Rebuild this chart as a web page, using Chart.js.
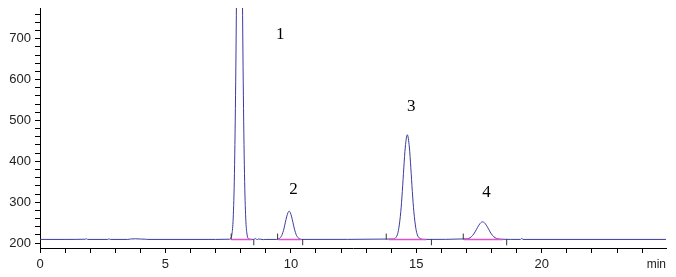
<!DOCTYPE html>
<html>
<head>
<meta charset="utf-8">
<script src="https://cdn.jsdelivr.net/npm/chart.js@4/dist/chart.umd.min.js"></script>
<style>
  body { margin: 0; background: #fff; }
</style>
</head>
<body>
<canvas id="myChart" width="676" height="277"></canvas>
<script>
// retention time (min) and detector signal
const times = [
  0, 1.0, 1.8, 1.85, 1.9, 2.7, 2.75, 2.8, 3.5, 3.6, 3.8, 4.0, 4.2, 4.3, 7.0,
  7.55, 7.6, 7.65, 7.7, 7.75, 7.8, 7.85, 7.9, 7.95, 8.0, 8.05, 8.1, 8.15, 8.2, 8.25, 8.3, 8.35,
  8.5, 8.6, 8.65, 8.7, 8.8, 8.9, 9.0,
  9.43, 9.53, 9.58, 9.63, 9.68, 9.73, 9.78, 9.83, 9.88, 9.93, 9.98, 10.03, 10.08, 10.13, 10.18, 10.23, 10.28, 10.33, 10.43,
  14.1, 14.2, 14.24, 14.3, 14.38, 14.44, 14.5, 14.56, 14.64, 14.72, 14.78, 14.84, 14.9, 14.98, 15.04, 15.08, 15.2, 15.3,
  17.04, 17.14, 17.24, 17.34, 17.44, 17.54, 17.64, 17.74, 17.84, 17.94, 18.04, 18.14, 18.24, 18.34,
  19.15, 19.2, 19.25, 24.95
];
const signal = [
  209, 209, 209.5, 210.5, 209, 209, 210.5, 209, 209, 210, 210.5, 210, 209.5, 209, 209,
  209.5, 211, 222, 261, 370, 596, 931, 1259, 1400, 1259, 931, 596, 370, 261, 222, 211, 209.5,
  209, 211, 208, 210, 209.5, 208.5, 209,
  209, 211, 213.5, 218, 226, 237, 251, 264, 274, 278, 274, 264, 251, 237, 226, 218, 213.5, 211, 209,
  210, 215, 220, 236, 277, 326, 384, 435, 465, 435, 384, 326, 277, 236, 220, 215, 210, 209,
  210.4, 213, 218.5, 227.4, 238.5, 248, 252, 248, 238.5, 227.4, 218.5, 213, 210.4, 209.5,
  209, 211.5, 209, 209
];

// integration: peak start / end times, baseline level
const peakStart = [7.62, 9.47, 13.8, 16.87];
const peakEnd = [8.52, 10.47, 15.6, 18.6];
const baseFrom = [7.62, 9.5, 13.9, 16.9];
const baseTo = [8.45, 10.4, 15.4, 18.45];
const baseLevel = 209;

// peak numbers
const peakNames = ['1', '2', '3', '4'];
const peakNameX = [9.58, 10.1, 14.8, 17.8];
const peakNameY = [709, 330, 533, 323];

const xTicks = [];
for (let i = 0; i <= 24; i++) xTicks.push(i);
const yTicks = [];
for (let v = 200; v <= 760; v += 20) yTicks.push(v);

const trace = times.map((t, i) => ({x: t, y: signal[i]}));
const baselines = [];
baseFrom.forEach((a, i) => {
  baselines.push({x: a, y: baseLevel}, {x: baseTo[i], y: baseLevel}, {x: baseTo[i], y: null});
});
const startMarks = peakStart.map(t => ({x: t, y: baseLevel + 7}));
const endMarks = peakEnd.map(t => ({x: t, y: baseLevel - 7}));

const extraText = {
  id: 'extraText',
  afterDatasetsDraw(chart) {
    const c = chart.ctx, xs = chart.scales.x, ys = chart.scales.y;
    c.save();
    c.fillStyle = '#000';
    c.font = '17px "Liberation Serif", "Times New Roman", serif';
    c.textAlign = 'center';
    c.textBaseline = 'middle';
    peakNames.forEach((n, i) => {
      c.fillText(n, xs.getPixelForValue(peakNameX[i]), ys.getPixelForValue(peakNameY[i]));
    });
    c.font = '12px "Liberation Sans", Arial, sans-serif';
    c.fillStyle = '#222';
    c.textAlign = 'right';
    c.textBaseline = 'top';
    c.fillText('min', xs.right, xs.top + 11);
    c.restore();
  }
};

const ctx = document.getElementById('myChart');

new Chart(ctx, {
  type: 'line',
  data: {
    datasets: [
      {
        data: trace,
        borderColor: '#3b3b9e',
        borderWidth: 1,
        pointRadius: 0,
        cubicInterpolationMode: 'monotone',
        order: 2
      },
      {
        data: baselines,
        borderColor: '#e050c8',
        borderWidth: 1.5,
        pointRadius: 0,
        spanGaps: false,
        order: 1
      },
      {
        data: startMarks.concat(endMarks),
        showLine: false,
        pointStyle: 'line',
        rotation: 90,
        radius: 3,
        borderColor: '#333',
        borderWidth: 1,
        order: 0
      }
    ]
  },
  options: {
    responsive: false,
    animation: false,
    layout: {
      padding: {top: 8, right: 10, left: 0, bottom: 0}
    },
    plugins: {
      legend: false,
      tooltip: {enabled: false}
    },
    scales: {
      x: {
        type: 'linear',
        min: 0,
        max: 24.95,
        afterBuildTicks: s => { s.ticks = xTicks.map(v => ({value: v})); },
        afterFit: s => { s.height = 29; s.paddingLeft = 0; s.paddingRight = 0; },
        ticks: {
          autoSkip: false,
          maxRotation: 0,
          padding: 4,
          color: '#222',
          font: {family: '"Liberation Sans", Arial, sans-serif', size: 13},
          callback: v => (v % 5 === 0 ? String(v) : '')
        },
        grid: {drawOnChartArea: false, drawTicks: true, tickLength: 5, color: '#000'},
        border: {color: '#000', width: 1}
      },
      y: {
        min: 188,
        max: 775,
        afterBuildTicks: s => { s.ticks = yTicks.map(v => ({value: v})); },
        afterFit: s => { s.width = 40; s.paddingTop = 0; s.paddingBottom = 0; },
        ticks: {
          autoSkip: false,
          padding: 4,
          color: '#222',
          font: {family: '"Liberation Sans", Arial, sans-serif', size: 13},
          callback: v => (v % 100 === 0 ? String(v) : '')
        },
        grid: {drawOnChartArea: false, drawTicks: true, tickLength: 5, color: '#000'},
        border: {color: '#000', width: 1}
      }
    }
  },
  plugins: [extraText]
});
</script>
</body>
</html>
